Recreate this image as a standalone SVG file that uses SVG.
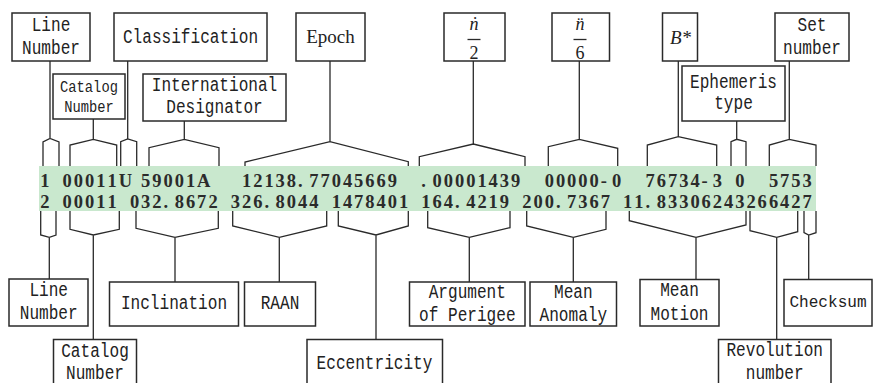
<svg xmlns="http://www.w3.org/2000/svg" width="873" height="383" viewBox="0 0 873 383">
  <style>
    .box { fill: #ffffff; stroke: #2a2a2a; stroke-width: 1.5; }
    .wire { fill: none; stroke: #2a2a2a; stroke-width: 1.3; stroke-linejoin: miter; }
    .lbl { font-family: "Liberation Mono", "DejaVu Sans Mono", monospace; font-size: 20px; fill: #222222; text-anchor: middle; }
    .lbl-s { font-family: "Liberation Mono", "DejaVu Sans Mono", monospace; font-size: 16.5px; fill: #222222; text-anchor: middle; }
    .serif { font-family: "Liberation Serif", "Times New Roman", serif; font-size: 19px; fill: #222222; text-anchor: middle; }
    .math { font-family: "Liberation Serif", "Times New Roman", serif; font-style: italic; font-size: 18px; fill: #222222; text-anchor: middle; }
    .tle { font-family: "Liberation Serif", "Times New Roman", serif; font-weight: bold; font-size: 18.5px; fill: #2b2b2b; }
  </style>

  <rect width="873" height="383" fill="#ffffff"/>

  <!-- two-line element set on a green band -->
  <g id="tle-band">
    <rect x="39" y="166" width="777" height="45" fill="#c9e8ce"/>
    <text class="tle" y="187">
      <tspan x="40.2">1</tspan>
      <tspan x="62.6 73.8 85.0 96.3 107.5 118.7">00011U</tspan>
      <tspan x="141.1 152.3 163.5 174.7 185.9 197.1">59001A</tspan>
      <tspan x="242.0 253.2 264.4 275.6 286.8 298.0 309.2 320.5 331.7 342.9 354.1 365.3 376.5 387.7">12138.77045669</tspan>
      <tspan x="421.3 432.6 443.8 455.0 466.2 477.4 488.6 499.8 511.0">.00001439</tspan>
      <tspan x="544.7 555.9 567.1 578.3 589.5 600.7 611.9">00000-0</tspan>
      <tspan x="645.5 656.8 668.0 679.2 690.4 701.6 712.8">76734-3</tspan>
      <tspan x="735.2">0</tspan>
      <tspan x="768.9 780.1 791.3 802.5">5753</tspan>
    </text>
    <text class="tle" y="208">
      <tspan x="40.2">2</tspan>
      <tspan x="62.6 73.8 85.0 96.3 107.5">00011</tspan>
      <tspan x="129.9 141.1 152.3 163.5 174.7 185.9 197.1 208.4">032.8672</tspan>
      <tspan x="230.8 242.0 253.2 264.4 275.6 286.8 298.0 309.2">326.8044</tspan>
      <tspan x="331.7 342.9 354.1 365.3 376.5 387.7 398.9">1478401</tspan>
      <tspan x="421.3 432.6 443.8 455.0 466.2 477.4 488.6 499.8">164.4219</tspan>
      <tspan x="522.2 533.4 544.7 555.9 567.1 578.3 589.5 600.7">200.7367</tspan>
      <tspan x="623.1 634.3 645.5 656.8 668.0 679.2 690.4 701.6 712.8 724.0 735.2 746.4 757.6 768.9 780.1 791.3 802.5">11.83306243266427</tspan>
    </text>
  </g>

  <!-- braces and leader lines -->
  <g id="connectors" class="wire">
    <!-- line 1 fields -->
    <path d="M50,61 V138.5 M43,166 V142 L50,138.5 L59,142 V166"/>
    <path d="M93.3,119 V139.3 M70,166 V145 L93.3,139.3 L116.7,145 V166"/>
    <path d="M127.7,61 V139 M120.7,166 V141.7 L127.7,139 L136.7,141.7 V166"/>
    <path d="M184.3,121 V139.3 M149,166 V147.7 L184.3,139.3 L219,147.7 V166"/>
    <path d="M330,61 V141.7 M245,166 V162 L330,141.7 L408.3,161.7 V166"/>
    <path d="M473.3,61 V144 M419.3,166 V156.7 L473.3,144 L525,156.7 V166"/>
    <path d="M579.3,61 V139.3 M548.3,166 V146.7 L579.3,139.3 L617.7,148.3 V166"/>
    <path d="M678.3,61 V136.7 M647.3,166 V145 L678.3,136.7 L716.7,145 V166"/>
    <path d="M736.7,121 V139.3 M731,166 V141.7 L736.7,139.3 L746,141.7 V166"/>
    <path d="M789.3,61 V139.3 M769.3,166 V145 L789.3,139.3 L816,145 V166"/>
    <!-- line 2 fields -->
    <path d="M40.7,211 V235 L49.3,237.3 L56,235 V211 M49.3,237.3 V279"/>
    <path d="M70,211 V229.3 L93.3,235 L119.3,229.3 V211 M93.3,235 V339"/>
    <path d="M136,211 V228.3 L175,237.3 L218.3,228.3 V211 M175,237.3 V282"/>
    <path d="M232.7,211 V226 L279.3,237.3 L326.7,226 V211 M279.3,237.3 V282"/>
    <path d="M338.3,211 V226 L376,235 L408.3,226 V211 M376,235 V339"/>
    <path d="M427.7,211 V227.7 L469.3,237.3 L510,227.7 V211 M469.3,237.3 V282"/>
    <path d="M526.7,211 V226 L573.3,237.3 L606,229.3 V211 M573.3,237.3 V282"/>
    <path d="M629.3,211 V220.7 L696,237.3 L746,225 V211 M696,237.3 V279"/>
    <path d="M750,211 V230.7 L776.7,237.3 L797.7,231.7 V211 M776.7,237.3 V339"/>
    <path d="M804,211 V232.7 L808.7,235 L816,232.7 V211 M808.7,235 V279"/>
  </g>

  <!-- upper labels -->
  <g id="line-number-1">
    <rect class="box" x="12" y="13" width="78" height="48"/>
    <text class="lbl" x="51" y="30.5" textLength="38.6" lengthAdjust="spacingAndGlyphs">Line</text>
    <text class="lbl" x="51" y="54" textLength="57.9" lengthAdjust="spacingAndGlyphs">Number</text>
  </g>
  <g id="classification">
    <rect class="box" x="114" y="13" width="153" height="48"/>
    <text class="lbl" x="190.5" y="43" textLength="135.1" lengthAdjust="spacingAndGlyphs">Classification</text>
  </g>
  <g id="catalog-number-1">
    <rect class="box" x="53" y="74" width="72" height="45"/>
    <text class="lbl-s" x="89" y="92" textLength="57.8" lengthAdjust="spacingAndGlyphs">Catalog</text>
    <text class="lbl-s" x="89" y="112" textLength="49.5" lengthAdjust="spacingAndGlyphs">Number</text>
  </g>
  <g id="international-designator">
    <rect class="box" x="143" y="74" width="143" height="47"/>
    <text class="lbl" x="214.5" y="91" textLength="125.5" lengthAdjust="spacingAndGlyphs">International</text>
    <text class="lbl" x="214.5" y="112.5" textLength="96.5" lengthAdjust="spacingAndGlyphs">Designator</text>
  </g>
  <g id="epoch">
    <rect class="box" x="296" y="13" width="69" height="48"/>
    <text class="serif" x="330.5" y="43">Epoch</text>
  </g>
  <g id="first-derivative">
    <rect class="box" x="444" y="13" width="61" height="48"/>
    <text class="math" x="474" y="30">ṅ</text>
    <line class="wire" x1="467.5" y1="39.5" x2="480.5" y2="39.5"/>
    <text class="serif" x="474" y="59" style="font-size:18px">2</text>
  </g>
  <g id="second-derivative">
    <rect class="box" x="552" y="13" width="57.5" height="48"/>
    <text class="math" x="580" y="30">n̈</text>
    <line class="wire" x1="573.5" y1="39.5" x2="586.5" y2="39.5"/>
    <text class="serif" x="580" y="59" style="font-size:18px">6</text>
  </g>
  <g id="bstar">
    <rect class="box" x="662.5" y="13" width="35" height="48"/>
    <text class="math" x="680.5" y="44" style="font-size:19px">B*</text>
  </g>
  <g id="ephemeris-type">
    <rect class="box" x="682" y="66" width="103" height="55"/>
    <text class="lbl" x="733.5" y="87.5" textLength="86.9" lengthAdjust="spacingAndGlyphs">Ephemeris</text>
    <text class="lbl" x="733.5" y="109" textLength="38.6" lengthAdjust="spacingAndGlyphs">type</text>
  </g>
  <g id="set-number">
    <rect class="box" x="775" y="13" width="74" height="48"/>
    <text class="lbl" x="812" y="30.5" textLength="29" lengthAdjust="spacingAndGlyphs">Set</text>
    <text class="lbl" x="812" y="53.5" textLength="57.9" lengthAdjust="spacingAndGlyphs">number</text>
  </g>

  <!-- lower labels -->
  <g id="line-number-2">
    <rect class="box" x="9" y="279" width="79" height="47"/>
    <text class="lbl" x="48.7" y="295.5" textLength="38.6" lengthAdjust="spacingAndGlyphs">Line</text>
    <text class="lbl" x="48.7" y="319" textLength="57.9" lengthAdjust="spacingAndGlyphs">Number</text>
  </g>
  <g id="catalog-number-2">
    <rect class="box" x="53.5" y="339.5" width="83" height="60"/>
    <text class="lbl" x="95" y="357" textLength="67.6" lengthAdjust="spacingAndGlyphs">Catalog</text>
    <text class="lbl" x="95" y="378.5" textLength="57.9" lengthAdjust="spacingAndGlyphs">Number</text>
  </g>
  <g id="inclination">
    <rect class="box" x="109.5" y="282" width="129" height="44"/>
    <text class="lbl" x="174" y="308.5" textLength="106.2" lengthAdjust="spacingAndGlyphs">Inclination</text>
  </g>
  <g id="raan">
    <rect class="box" x="244.5" y="282" width="71" height="44"/>
    <text class="lbl" x="280" y="308.5" textLength="38.6" lengthAdjust="spacingAndGlyphs">RAAN</text>
  </g>
  <g id="eccentricity">
    <rect class="box" x="307" y="339.5" width="135.5" height="60"/>
    <text class="lbl" x="374.5" y="368.5" textLength="115.8" lengthAdjust="spacingAndGlyphs">Eccentricity</text>
  </g>
  <g id="argument-of-perigee">
    <rect class="box" x="409.5" y="282" width="115.5" height="44"/>
    <text class="lbl" x="467.3" y="297.5" textLength="77.2" lengthAdjust="spacingAndGlyphs">Argument</text>
    <text class="lbl" x="467.3" y="321" textLength="96.5" lengthAdjust="spacingAndGlyphs">of Perigee</text>
  </g>
  <g id="mean-anomaly">
    <rect class="box" x="530" y="282" width="86.5" height="44"/>
    <text class="lbl" x="573.3" y="297.5" textLength="38.6" lengthAdjust="spacingAndGlyphs">Mean</text>
    <text class="lbl" x="573.3" y="321" textLength="67.6" lengthAdjust="spacingAndGlyphs">Anomaly</text>
  </g>
  <g id="mean-motion">
    <rect class="box" x="640" y="279.5" width="79" height="46.5"/>
    <text class="lbl" x="679.5" y="296" textLength="38.6" lengthAdjust="spacingAndGlyphs">Mean</text>
    <text class="lbl" x="679.5" y="319.5" textLength="57.9" lengthAdjust="spacingAndGlyphs">Motion</text>
  </g>
  <g id="checksum">
    <rect class="box" x="784" y="279.5" width="88" height="46.5"/>
    <text class="lbl" x="828" y="307" style="font-size:17px" textLength="77.2" lengthAdjust="spacingAndGlyphs">Checksum</text>
  </g>
  <g id="revolution-number">
    <rect class="box" x="718.5" y="339.5" width="112.5" height="60"/>
    <text class="lbl" x="774.7" y="355.5" textLength="96.5" lengthAdjust="spacingAndGlyphs">Revolution</text>
    <text class="lbl" x="774.7" y="378.5" textLength="57.9" lengthAdjust="spacingAndGlyphs">number</text>
  </g>
</svg>
